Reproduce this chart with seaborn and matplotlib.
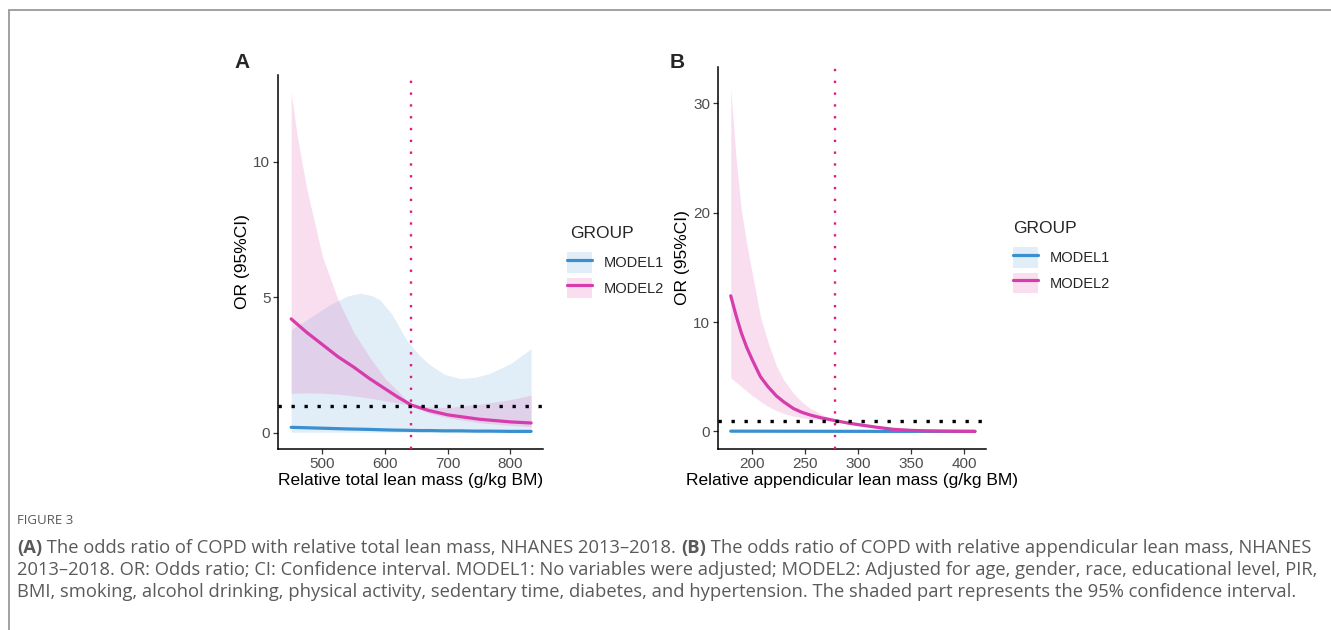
import numpy as np
import pandas as pd
import seaborn as sns
import matplotlib
matplotlib.use("Agg")
import matplotlib.pyplot as plt
from matplotlib.patches import Patch
from matplotlib.lines import Line2D
from matplotlib.legend_handler import HandlerTuple

# ---------------- data ----------------
# Panel A: relative total lean mass
a_m2_x = [450, 460, 475, 500, 525, 550, 575, 600, 620, 642, 670, 700, 750, 800, 833]
a_m2_or = [4.2, 4.0, 3.7, 3.25, 2.8, 2.42, 2.0, 1.62, 1.32, 1.02, 0.82, 0.66, 0.5, 0.4, 0.36]
a_m2_hi = [12.55, 10.9, 9.0, 6.5, 4.9, 3.7, 2.8, 2.0, 1.55, 1.02, 0.95, 0.93, 1.05, 1.22, 1.39]
a_m2_lo = [1.45, 1.46, 1.47, 1.46, 1.42, 1.36, 1.28, 1.18, 1.1, 1.0, 0.72, 0.55, 0.37, 0.27, 0.22]

a_m1_x = [450, 480, 510, 540, 561, 580, 592, 610, 635, 655, 672, 695, 720, 745, 768, 800, 833]
a_m1_or = [0.2, 0.18, 0.16, 0.14, 0.13, 0.12, 0.11, 0.1, 0.09, 0.08, 0.08, 0.07, 0.07, 0.06, 0.06, 0.05, 0.05]
a_m1_hi = [3.8, 4.25, 4.7, 5.05, 5.15, 5.05, 4.9, 4.4, 3.4, 2.85, 2.5, 2.15, 2.0, 2.05, 2.2, 2.55, 3.1]
a_m1_lo = [0.02, 0.02, 0.02, 0.02, 0.02, 0.02, 0.02, 0.02, 0.02, 0.02, 0.02, 0.02, 0.02, 0.02, 0.02, 0.02, 0.02]

# Panel B: relative appendicular lean mass
b_m2_x = [180, 185, 190, 195, 200, 208, 215, 223, 230, 239, 247, 255, 265, 278, 290, 302, 318, 333, 350, 364, 385, 410]
b_m2_or = [12.4, 10.6, 9.0, 7.7, 6.6, 5.0, 4.1, 3.25, 2.7, 2.1, 1.75, 1.5, 1.25, 1.0, 0.78, 0.6, 0.38, 0.2, 0.1, 0.06, 0.03, 0.01]
b_m2_hi = [31.4, 25.0, 20.2, 17.2, 14.6, 10.5, 8.2, 6.0, 4.7, 3.5, 2.7, 2.1, 1.6, 1.02, 0.9, 0.72, 0.47, 0.26, 0.13, 0.08, 0.04, 0.02]
b_m2_lo = [4.9, 4.5, 4.1, 3.7, 3.3, 2.75, 2.3, 1.9, 1.65, 1.4, 1.25, 1.15, 1.07, 0.98, 0.68, 0.5, 0.3, 0.15, 0.07, 0.04, 0.02, 0.005]

b_m1_x = [180, 250, 330, 410]
b_m1_or = [0.03, 0.02, 0.01, 0.01]
b_m1_hi = [0.1, 0.06, 0.04, 0.05]
b_m1_lo = [0.0, 0.0, 0.0, 0.0]

groups = ["MODEL1", "MODEL2"]
a_ref, b_ref = 642, 278
a_xticks = [500, 600, 700, 800]
a_yticks = [0, 5, 10]
b_xticks = [200, 250, 300, 350, 400]
b_yticks = [0, 10, 20, 30]

# ---------------- style ----------------
sns.set_theme(style="white")
plt.rcParams["font.family"] = ["Liberation Sans", "DejaVu Sans"]

BLUE = "#3A8FCF"
MAG = "#D63CAB"
BLUE_FILL = (58/255, 143/255, 207/255, 0.15)
PINK_FILL = (224/255, 77/255, 176/255, 0.18)
VLINE = "#E0197D"
palette = {"MODEL1": BLUE, "MODEL2": MAG}

W, H = 1331, 630
fig = plt.figure(figsize=(W/100, H/100), dpi=100)

def px_axes(l, r, t, b):
    return fig.add_axes([l/W, 1 - b/H, (r-l)/W, (b-t)/H])

axA = px_axes(278, 543, 75, 449)
axB = px_axes(718, 986, 67, 449)

def build_df(x1, y1, x2, y2):
    return pd.concat([
        pd.DataFrame({"x": x1, "OR": y1, "GROUP": "MODEL1"}),
        pd.DataFrame({"x": x2, "OR": y2, "GROUP": "MODEL2"}),
    ], ignore_index=True)

def draw_panel(ax, m1, m2, ref, xlim, ylim, xticks, yticks, xlabel):
    (x1, y1, lo1, hi1), (x2, y2, lo2, hi2) = m1, m2
    ax.fill_between(x1, lo1, hi1, color=BLUE_FILL, lw=0, zorder=1)
    ax.fill_between(x2, lo2, hi2, color=PINK_FILL, lw=0, zorder=2)
    df = build_df(x1, y1, x2, y2)
    sns.lineplot(data=df, x="x", y="OR", hue="GROUP", palette=palette,
                 hue_order=groups, lw=2.3, ax=ax, legend=False, zorder=3,
                 sort=True, estimator=None)
    ax.axhline(1, color="black", lw=2.4, ls=(0, (1, 2.9)), zorder=4,
               dash_capstyle="butt")
    ax.axvline(ref, color=VLINE, lw=1.7, ls=(0, (1, 4.0)), zorder=5,
               dash_capstyle="butt")
    ax.set_xlim(*xlim)
    ax.set_ylim(*ylim)
    ax.set_xticks(xticks)
    ax.set_yticks(yticks)
    for s in ["top", "right"]:
        ax.spines[s].set_visible(False)
    for s in ["left", "bottom"]:
        ax.spines[s].set_color("black")
        ax.spines[s].set_linewidth(1.1)
    ax.tick_params(axis="both", which="major", length=3.5, width=0.9,
                   color="#333333", labelsize=11, labelcolor="#4D4D4D",
                   bottom=True, left=True, pad=2)
    ax.set_xlabel(xlabel, fontsize=12.5, color="black")
    ax.set_ylabel("OR (95%CI)", fontsize=12.5, color="black")
    ax.xaxis.label.set_va("center")
    ax.yaxis.label.set_va("center")

draw_panel(axA, (a_m1_x, a_m1_or, a_m1_lo, a_m1_hi),
           (a_m2_x, a_m2_or, a_m2_lo, a_m2_hi), a_ref,
           (429, 852), (-0.6, 13.2), a_xticks, a_yticks,
           "Relative total lean mass (g/kg BM)")
draw_panel(axB, (b_m1_x, b_m1_or, b_m1_lo, b_m1_hi),
           (b_m2_x, b_m2_or, b_m2_lo, b_m2_hi), b_ref,
           (168, 420.4), (-1.6, 33.3), b_xticks, b_yticks,
           "Relative appendicular lean mass (g/kg BM)")

axA.xaxis.set_label_coords(0.5, (449 - 481) / 374)
axA.yaxis.set_label_coords((243 - 278) / 265, 0.5)
axB.xaxis.set_label_coords(0.5, (449 - 481) / 382)
axB.yaxis.set_label_coords((683 - 718) / 268, 0.5)

# panel letters
fig.text(242/W, 1 - 62/H, "A", fontsize=15, fontweight="bold", ha="center", va="center")
fig.text(677/W, 1 - 62/H, "B", fontsize=15, fontweight="bold", ha="center", va="center")

# legends
def make_handles():
    h = []
    for g, fc in zip(groups, [BLUE_FILL, PINK_FILL]):
        h.append((Patch(facecolor=fc, edgecolor="none"),
                  Line2D([], [], color=palette[g], lw=2.3)))
    return h

for ax, (tx, ty), (lx, ly) in [(axA, (570, 233), (567, 252)),
                               (axB, (1013, 228), (1013, 247))]:
    fig.text(tx/W, 1 - ty/H, "GROUP", fontsize=12.5, ha="left", va="center")
    ax.legend(make_handles(), groups,
              handler_map={tuple: HandlerTuple(ndivide=1, pad=0)},
              loc="upper left", bbox_to_anchor=(lx/W, 1 - ly/H),
              bbox_transform=fig.transFigure, frameon=False,
              fontsize=10.5, borderpad=0, borderaxespad=0,
              handlelength=1.71, handleheight=1.8, labelspacing=0.35,
              handletextpad=0.8)

# figure border (top and left)
fig.add_artist(Line2D([9/W, 1], [1 - 10/H, 1 - 10/H], color="#9A9A9A", lw=1.3,
                      transform=fig.transFigure))
fig.add_artist(Line2D([9/W, 9/W], [0, 1 - 10/H], color="#9A9A9A", lw=1.3,
                      transform=fig.transFigure))

# caption
CAP = "#5A5A5A"
capfont = ["Open Sans", "DejaVu Sans"]
fig.text(17/W, 1 - 521/H, "FIGURE 3", fontsize=9.5, color=CAP, family=capfont,
         va="center", ha="left")

fig.canvas.draw()
renderer = fig.canvas.get_renderer()

def rich_line(y_px, pieces, size=13.2):
    x = 17
    for txt, bold in pieces:
        t = fig.text(x/W, 1 - y_px/H, txt, fontsize=size, color=CAP,
                     family=capfont, fontweight="bold" if bold else "normal",
                     va="center", ha="left")
        bb = t.get_window_extent(renderer)
        x = bb.x1

rich_line(548, [("(A)", True),
                (" The odds ratio of COPD with relative total lean mass, NHANES 2013\u20132018. ", False),
                ("(B)", True),
                (" The odds ratio of COPD with relative appendicular lean mass, NHANES", False)])
rich_line(570, [("2013\u20132018. OR: Odds ratio; CI: Confidence interval. MODEL1: No variables were adjusted; MODEL2: Adjusted for age, gender, race, educational level, PIR,", False)])
rich_line(592, [("BMI, smoking, alcohol drinking, physical activity, sedentary time, diabetes, and hypertension. The shaded part represents the 95% confidence interval.", False)])

fig.savefig("out.png", dpi=100, facecolor="white")
